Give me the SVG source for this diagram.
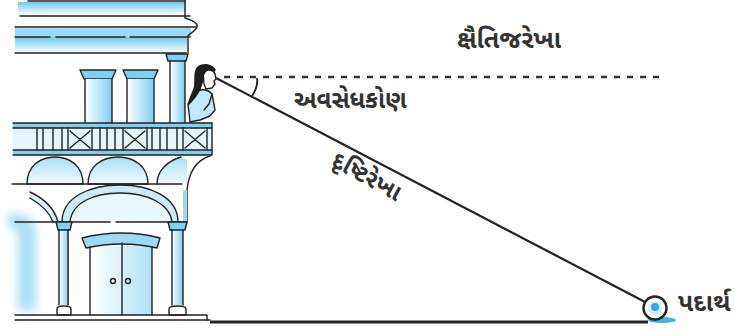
<svg xmlns="http://www.w3.org/2000/svg" width="735" height="335" viewBox="0 0 735 335">
  <defs>
    <style>
      .ink { fill: none; stroke: #222; stroke-width: 1.4; stroke-linejoin: round; stroke-linecap: round; }
      .inkf { stroke: #222; stroke-width: 1.4; stroke-linejoin: round; }
      .mb { fill: #7fcff2; }
      .lbl { font-family: "Noto Sans Gujarati", "Noto Sans", "Lohit Gujarati", sans-serif; font-weight: bold; fill: #333; }
    </style>
    <filter id="soft" x="-40%" y="-40%" width="180%" height="180%">
      <feGaussianBlur stdDeviation="5"/>
    </filter>
    <linearGradient id="vfade" x1="0" y1="0" x2="0" y2="1">
      <stop offset="0" stop-color="#6fc8f0"/>
      <stop offset="1" stop-color="#ffffff"/>
    </linearGradient>
    <linearGradient id="domefade" x1="0" y1="0" x2="0" y2="1">
      <stop offset="0" stop-color="#a9def7"/>
      <stop offset="1" stop-color="#f2fafe"/>
    </linearGradient>
    <linearGradient id="hcol" x1="0" y1="0" x2="1" y2="0">
      <stop offset="0" stop-color="#ffffff"/>
      <stop offset="1" stop-color="#7fcff2"/>
    </linearGradient>
  </defs>

  <!-- building -->
  <g id="building">
    <!-- soft wash on the left wall -->
    <path d="M8 214 C22 212 34 216 36 232 V310 H18 V236 C18 230 14 228 8 228 Z" fill="#8fd4f3" opacity="0.75" filter="url(#soft)"/>

    <!-- cornice -->
    <rect x="18" y="2" width="168" height="13" fill="url(#vfade)"/>
    <rect x="15" y="28" width="176" height="9" fill="#9bd9f5"/>
    <rect x="15" y="37" width="172" height="16" fill="url(#vfade)"/>
    <path class="ink" d="M28 1 H185"/>
    <path class="ink" d="M20 16 H190"/>
    <path class="ink" d="M15 27 H196"/>
    <path class="ink" d="M15 37 H50 M56 37 H125 M130 37 H190"/>
    <path class="ink" d="M15 53 H186"/>
    <path class="ink" d="M185 0 V18 C192 20 198 23 197 27 C196 31 190 33 188 36 V53"/>

    <!-- tall pillar -->
    <rect x="170" y="61" width="15" height="62" fill="url(#hcol)"/>
    <path class="inkf" d="M166 54 H188 L186 61 H168 Z" fill="#7fcff2"/>
    <path class="ink" d="M170 61 V123 M185 61 V123"/>

    <!-- short columns -->
    <path class="inkf" d="M80 70 H116 L112 79 H84 Z" fill="#7fcff2"/>
    <rect x="85" y="79" width="27" height="44" fill="url(#hcol)"/>
    <path class="ink" d="M85 79 V123 M112 79 V123"/>
    <path class="inkf" d="M123 70 H158 L154 79 H127 Z" fill="#7fcff2"/>
    <rect x="127" y="79" width="27" height="44" fill="url(#hcol)"/>
    <path class="ink" d="M127 79 V123 M154 79 V123"/>

    <!-- balcony railing -->
    <rect x="13" y="123" width="199" height="5" class="mb"/>
    <rect x="13" y="150" width="199" height="5" class="mb"/>
    <rect x="13" y="128" width="199" height="22" fill="#e6f5fc"/>
    <path class="ink" d="M13 123 H212 M13 128 H212 M13 150 H212 M13 155 H212"/>
    <path class="ink" d="M37 128 V150 M43 128 V150 M53 128 V150 M62 128 V150 M68 128 V150 M92 128 V150 M100 128 V150 M107 128 V150 M115 128 V150 M123 128 V150 M147 128 V150 M152 128 V150 M160 128 V150 M167 128 V150 M177 128 V150 M183 128 V150 M207 128 V150 M212 123 V155"/>
    <path class="ink" d="M70 131 L90 148 M90 131 L70 148 M125 131 L145 148 M145 131 L125 148 M185 131 L205 148 M205 131 L185 148"/>

    <!-- small domes under the balcony -->
    <path class="inkf" fill="url(#domefade)" d="M27 184 C27 166 40 157 55 157 C70 157 83 166 83 184 Z"/>
    <path class="inkf" fill="url(#domefade)" d="M88 184 C88 166 102 157 118 157 C134 157 148 166 148 184 Z"/>
    <path fill="url(#domefade)" d="M157 184 C157 170 168 161 181 157 L187 160 V184 Z"/>
    <path class="ink" d="M157 184 C157 170 168 161 181 157"/>
    <path class="ink" d="M12 184 H182"/>
    <path class="ink" d="M210 156 C197 160 189 170 187 190 V222"/>
    <rect x="183" y="190" width="4" height="32" fill="#9bd9f5"/>

    <!-- large arch -->
    <path fill="#cbeafa" d="M62 222 C62 196 92 185 120 185 C150 185 178 197 178 222 H172 C170 204 148 193 120 193 C95 193 72 202 70 222 Z"/>
    <path fill="#eaf7fd" d="M70 222 C72 202 95 193 120 193 C148 193 170 204 172 222 Z"/>
    <path class="ink" d="M62 222 C62 196 92 185 120 185 C150 185 178 197 178 222"/>
    <path class="ink" d="M70 222 C72 202 95 193 120 193 C148 193 170 204 172 222"/>
    <path fill="#d9f0fb" d="M30 192 C45 199 55 210 58 222 H53 C50 213 42 205 30 198 Z"/>
    <path class="ink" d="M30 192 C45 199 55 210 58 222 M30 198 C42 205 50 213 53 222"/>
    <path class="ink" d="M15 222 H110 M116 222 H186"/>

    <!-- columns of the ground floor -->
    <rect x="59" y="230" width="10" height="75" fill="url(#hcol)"/>
    <path class="inkf" fill="#7fcff2" d="M56 222 H72 L70 230 H58 Z"/>
    <path class="ink" d="M59 230 V305 M68 230 V305"/>
    <path class="inkf" fill="#ffffff" d="M57 309 C57 305 71 305 71 309 V315 H57 Z"/>
    <rect x="172" y="230" width="11" height="75" fill="url(#hcol)"/>
    <path class="inkf" fill="#7fcff2" d="M168 222 H187 L185 230 H170 Z"/>
    <path class="ink" d="M172 230 V305 M183 230 V305"/>
    <path class="inkf" fill="#ffffff" d="M169 309 C169 305 186 305 186 309 V315 H169 Z"/>

    <!-- door -->
    <rect x="90" y="246" width="62" height="69" fill="url(#hcol)" opacity="0.6"/>
    <path class="inkf" fill="#9bd9f5" d="M82 238 Q122 228 160 238 L157 248 Q122 240 86 248 Z"/>
    <path class="ink" d="M90 247 V315 M152 247 V315 M122 243 V315"/>
    <circle class="ink" cx="113" cy="281" r="2.5"/>
    <circle class="ink" cx="128" cy="281" r="2.5"/>

    <!-- plinth -->
    <path class="ink" d="M15 315 H207 V320"/>
    <path class="ink" d="M15 320 H210"/>
  </g>

  <!-- observer on the balcony -->
  <g id="observer">
    <path fill="#c4e8f9" class="inkf" d="M194 93 C200 88 208 89 212 94 L215 110 L210 116 L200 120 L190 122 L188 104 Z"/>
    <path class="ink" d="M212 94 L209 104 L204 110"/>
    <path fill="#fff" class="inkf" d="M203 72 C208 68 214 70 215 74 L216 79 L214 81 L215 84 L212 88 L206 89 L204 84 Z"/>
    <path fill="#1e1e1e" d="M198 66 C204 62 213 64 216 70 L214 72 C209 69 205 71 204 76 C203 84 201 90 196 97 C193 101 190 104 188 106 C188 98 193 92 194 86 C195 78 193 70 198 66 Z"/>
  </g>

  <!-- connectors: sight line, horizontal line, ground -->
  <g id="connectors">
    <path d="M224 77 H665" stroke="#333" stroke-width="2.4" stroke-dasharray="6 7" fill="none"/>
    <path d="M216 78 L647 303" stroke="#222" stroke-width="2.2" fill="none"/>
    <path d="M257 78 C258 84 256 90 252 96" stroke="#222" stroke-width="1.8" fill="none"/>
    <path d="M210 322 H648" stroke="#222" stroke-width="3" fill="none"/>
  </g>

  <!-- object on the ground -->
  <g id="object">
    <ellipse cx="662" cy="320" rx="14" ry="3" fill="#3fb4ea"/>
    <circle cx="655" cy="308" r="11.5" fill="#ffffff" stroke="#222" stroke-width="2.4"/>
    <circle cx="655" cy="308" r="7" fill="#d4eefb"/>
    <circle cx="655" cy="307" r="4" fill="#2ea8e6"/>
  </g>

  <!-- labels -->
  <g id="labels">
    <text class="lbl" x="457" y="48" font-size="25">ક્ષૈતિજરેખા</text>
    <text class="lbl" x="294" y="108" font-size="24">અવસેધકોણ</text>
    <text class="lbl" x="0" y="0" font-size="24" transform="translate(330 165) rotate(29)">દૃષ્ટિરેખા</text>
    <text class="lbl" x="678" y="311" font-size="25">પદાર્થ</text>
  </g>
</svg>
